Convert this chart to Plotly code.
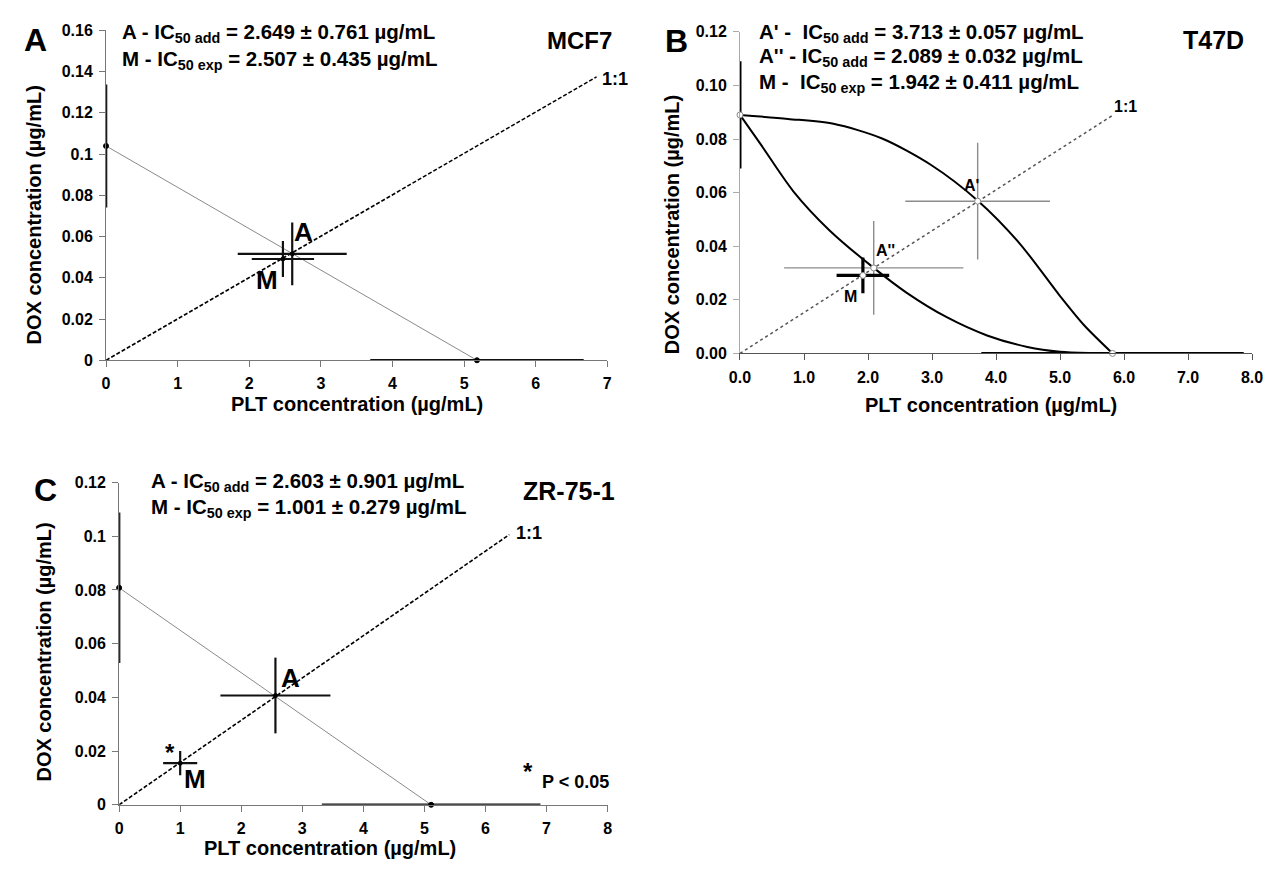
import plotly.graph_objects as go

W, H = 1284, 869
FONT = "Liberation Sans, Arial, sans-serif"

# ---------------- Panel A (MCF7) ----------------
a_line_x = [0, 5.18]
a_line_y = [0.1039, 0]
a_11_x = [0, 6.85]
a_11_y = [0, 0.1374]
a_ends_x = [0, 5.18]
a_ends_y = [0.1039, 0]
a_ends_ex = [0, 1.49]
a_ends_ey = [0.0298, 0]
a_pts_x = [2.60, 2.47]          # A, M
a_pts_y = [0.0516, 0.0491]
a_pts_ex = [0.761, 0.435]
a_pts_ey = [0.0152, 0.0087]
a_xt = [0, 1, 2, 3, 4, 5, 6, 7]
a_yt = [0, 0.02, 0.04, 0.06, 0.08, 0.1, 0.12, 0.14, 0.16]
a_ytl = ["0", "0.02", "0.04", "0.06", "0.08", "0.1", "0.12", "0.14", "0.16"]

# ---------------- Panel B (T47D) ----------------
b_up_x = [0, 0.75, 1.46, 2.22, 2.98, 3.72, 4.37, 5.0, 5.38, 5.82]
b_up_y = [0.089, 0.0875, 0.0857, 0.0802, 0.0704, 0.0569, 0.041, 0.0214, 0.0104, 0]
b_lo_x = [0, 0.33, 0.83, 1.40, 2.08, 2.6, 3.23, 3.86, 4.49, 5.0, 5.5, 5.82]
b_lo_y = [0.089, 0.0778, 0.0606, 0.0459, 0.0321, 0.0227, 0.0135, 0.0067, 0.0024, 0.0006, 0.0001, 0]
b_11_x = [0, 5.82]
b_11_y = [0, 0.0888]
b_ends_x = [0, 5.82]
b_ends_y = [0.089, 0]
b_ends_ex = [0, 2.05]
b_ends_ey = [0.020, 0]
b_add_x = [3.713, 2.089]        # A', A''
b_add_y = [0.0568, 0.0319]
b_add_ex = [1.13, 1.40]
b_add_ey = [0.0218, 0.0175]
b_m_x = [1.92]
b_m_y = [0.0291]
b_m_ex = [0.411]
b_m_ey = [0.0067]
b_xt = [0, 1, 2, 3, 4, 5, 6, 7, 8]
b_yt = [0, 0.02, 0.04, 0.06, 0.08, 0.10, 0.12]

# ---------------- Panel C (ZR-75-1) ----------------
c_line_x = [0, 5.11]
c_line_y = [0.0808, 0]
c_11_x = [0, 6.39]
c_11_y = [0, 0.1006]
c_ends_x = [0, 5.11]
c_ends_y = [0.0808, 0]
c_ends_ex = [0, 1.79]
c_ends_ey = [0.028, 0]
c_pts_x = [2.56, 1.0]           # A, M
c_pts_y = [0.0407, 0.0155]
c_pts_ex = [0.901, 0.279]
c_pts_ey = [0.0141, 0.0045]
c_xt = [0, 1, 2, 3, 4, 5, 6, 7, 8]
c_yt = [0, 0.02, 0.04, 0.06, 0.08, 0.1, 0.12]
c_ytl = ["0", "0.02", "0.04", "0.06", "0.08", "0.1", "0.12"]

fig = go.Figure()


def line(x, y, ax, color, width, dash="solid", shape="linear"):
    fig.add_trace(go.Scatter(x=x, y=y, xaxis=ax[0], yaxis=ax[1], mode="lines",
                             line=dict(color=color, width=width, dash=dash, shape=shape, smoothing=0.8),
                             cliponaxis=False, showlegend=False, hoverinfo="skip"))


def errpts(x, y, ex, ey, ax, color, width, msize, mcolor, mline="black", msym="circle"):
    fig.add_trace(go.Scatter(x=x, y=y, xaxis=ax[0], yaxis=ax[1], mode="markers",
                             marker=dict(size=msize, color=mcolor, symbol=msym,
                                         line=dict(color=mline, width=1)),
                             error_x=dict(type="data", array=ex, color=color, thickness=width, width=0),
                             error_y=dict(type="data", array=ey, color=color, thickness=width, width=0),
                             cliponaxis=False, showlegend=False, hoverinfo="skip"))


# Panel A
AX = ("x", "y")
line(a_line_x, a_line_y, AX, "#8a8a8a", 1)
line(a_11_x, a_11_y, AX, "black", 1.6, dash="4px,2px")
errpts(a_ends_x, a_ends_y, a_ends_ex, a_ends_ey, AX, "#111", 2.5, 5, "black")
errpts(a_pts_x, a_pts_y, a_pts_ex, a_pts_ey, AX, "#111", 2.2, 4, "black")

# Panel B
BX = ("x2", "y2")
line(b_11_x, b_11_y, BX, "#555", 1.5, dash="dot")
line(b_up_x, b_up_y, BX, "black", 2, shape="spline")
line(b_lo_x, b_lo_y, BX, "black", 2, shape="spline")
errpts(b_ends_x, b_ends_y, b_ends_ex, b_ends_ey, BX, "black", 3, 6, "white", mline="#888")
errpts(b_add_x, b_add_y, b_add_ex, b_add_ey, BX, "#8c8c8c", 1.4, 6, "white", mline="#888")
errpts(b_m_x, b_m_y, b_m_ex, b_m_ey, BX, "black", 3.2, 6, "white", mline="#888")

# Panel C
CX = ("x3", "y3")
line(c_line_x, c_line_y, CX, "#8a8a8a", 1)
line(c_11_x, c_11_y, CX, "black", 1.6, dash="4px,2px")
errpts(c_ends_x, c_ends_y, c_ends_ex, c_ends_ey, CX, "#111", 2.5, 5, "black")
errpts(c_pts_x, c_pts_y, c_pts_ex, c_pts_ey, CX, "#111", 2.2, 4, "black")


def px(xp, yp):
    return xp / W, 1 - yp / H


tickfont = dict(family=FONT, size=16, color="black", weight="bold")


def axis(domain, rng, tickvals, ticktext=None, linecolor="#777", tickformat=None):
    d = dict(domain=domain, range=rng, tickmode="array", tickvals=tickvals,
             showgrid=False, zeroline=False, showline=True, linecolor=linecolor, linewidth=1,
             ticks="outside", ticklen=6, tickcolor=linecolor, tickwidth=1,
             tickfont=tickfont, ticklabelstandoff=3, fixedrange=True)
    if ticktext is not None:
        d["ticktext"] = ticktext
    if tickformat is not None:
        d["tickformat"] = tickformat
    return d


layout = dict(
    width=W, height=H, margin=dict(l=0, r=0, t=0, b=0),
    paper_bgcolor="white", plot_bgcolor="white", showlegend=False,
    font=dict(family=FONT, color="black"),
    xaxis=axis([96.7 / W, 606.7 / W], [0, 7], a_xt),
    yaxis=axis([1 - 359.3 / H, 1 - 22.7 / H], [0, 0.16], a_yt, a_ytl),
    xaxis2=axis([741.7 / W, 1262.7 / W], [0, 8], b_xt, tickformat=".1f", linecolor="#555"),
    yaxis2=axis([1 - 352.3 / H, 1 - 24.3 / H], [0, 0.12], b_yt, tickformat=".2f", linecolor="#aaa"),
    xaxis3=axis([110 / W, 607 / W], [0, 8], c_xt),
    yaxis3=axis([1 - 812.7 / H, 1 - 484 / H], [0, 0.12], c_yt, c_ytl),
)
layout["xaxis"]["anchor"] = "y"
layout["yaxis"]["anchor"] = "x"
layout["xaxis2"]["anchor"] = "y2"
layout["yaxis2"]["anchor"] = "x2"
layout["xaxis3"]["anchor"] = "y3"
layout["yaxis3"]["anchor"] = "x3"
fig.update_layout(**layout)

ann = []


def ptext(text, xp, yp, size, xanchor="center", angle=0):
    x, y = px(xp, yp)
    ann.append(dict(text=text, x=x, y=y, xref="paper", yref="paper", xanchor=xanchor,
                    yanchor="middle", showarrow=False, textangle=angle,
                    font=dict(family=FONT, size=size, color="black", weight="bold")))


def dtext(text, x, y, ax, size):
    ann.append(dict(text=text, x=x, y=y, xref=ax[0], yref=ax[1], xanchor="center",
                    yanchor="middle", showarrow=False,
                    font=dict(family=FONT, size=size, color="black", weight="bold")))


YT = "DOX concentration (µg/mL)"
XT = "PLT concentration (µg/mL)"

# Panel A texts
ptext("A", 25, 33, 32)
ptext("MCF7", 578, 33, 24)
ptext("A - IC<sub>50 add</sub> = 2.649 ± 0.761 µg/mL", 111, 25, 20.5, xanchor="left")
ptext("M - IC<sub>50 exp</sub> = 2.507 ± 0.435 µg/mL", 111, 53, 20.5, xanchor="left")
ptext("1:1", 615, 72, 18)
ptext(YT, 23, 211, 20, angle=-90)
ptext(XT, 352, 404, 20)
dtext("A", 2.76, 0.062, AX, 26)
dtext("M", 2.25, 0.039, AX, 26)

# Panel B texts
ptext("B", 677, 34, 32)
ptext("T47D", 1223, 33, 25)
ptext("A' -  IC<sub>50 add</sub> = 3.713 ± 0.057 µg/mL", 759, 25, 20.5, xanchor="left")
ptext("A'' - IC<sub>50 add</sub> = 2.089 ± 0.032 µg/mL", 759, 50, 20.5, xanchor="left")
ptext("M -  IC<sub>50 exp</sub> = 1.942 ± 0.411 µg/mL", 759, 77, 20.5, xanchor="left")
ptext("1:1", 1134, 100, 16)
ptext(YT, 672, 221, 20, angle=-90)
ptext(XT, 997, 405, 20)
dtext("A'", 3.62, 0.0627, BX, 16)
dtext("A''", 2.28, 0.0385, BX, 16)
dtext("M", 1.72, 0.0213, BX, 16)

# Panel C texts
ptext("C", 35, 492, 32)
ptext("ZR-75-1", 568, 493, 25)
ptext("A - IC<sub>50 add</sub> = 2.603 ± 0.901 µg/mL", 140.6, 483, 20.5, xanchor="left")
ptext("M - IC<sub>50 exp</sub> = 1.001 ± 0.279 µg/mL", 140.6, 510, 20.5, xanchor="left")
ptext("1:1", 527, 535, 18)
ptext(YT, 34, 657, 20, angle=-90)
ptext(XT, 325, 857, 20)
dtext("A", 2.80, 0.0472, CX, 26)
dtext("*", 0.83, 0.0195, CX, 24)
dtext("M", 1.25, 0.0095, CX, 26)
ptext("*", 526, 779, 24)
ptext("P &lt; 0.05", 574, 789, 18)

fig.update_layout(annotations=ann)
fig.write_html("out.html")
